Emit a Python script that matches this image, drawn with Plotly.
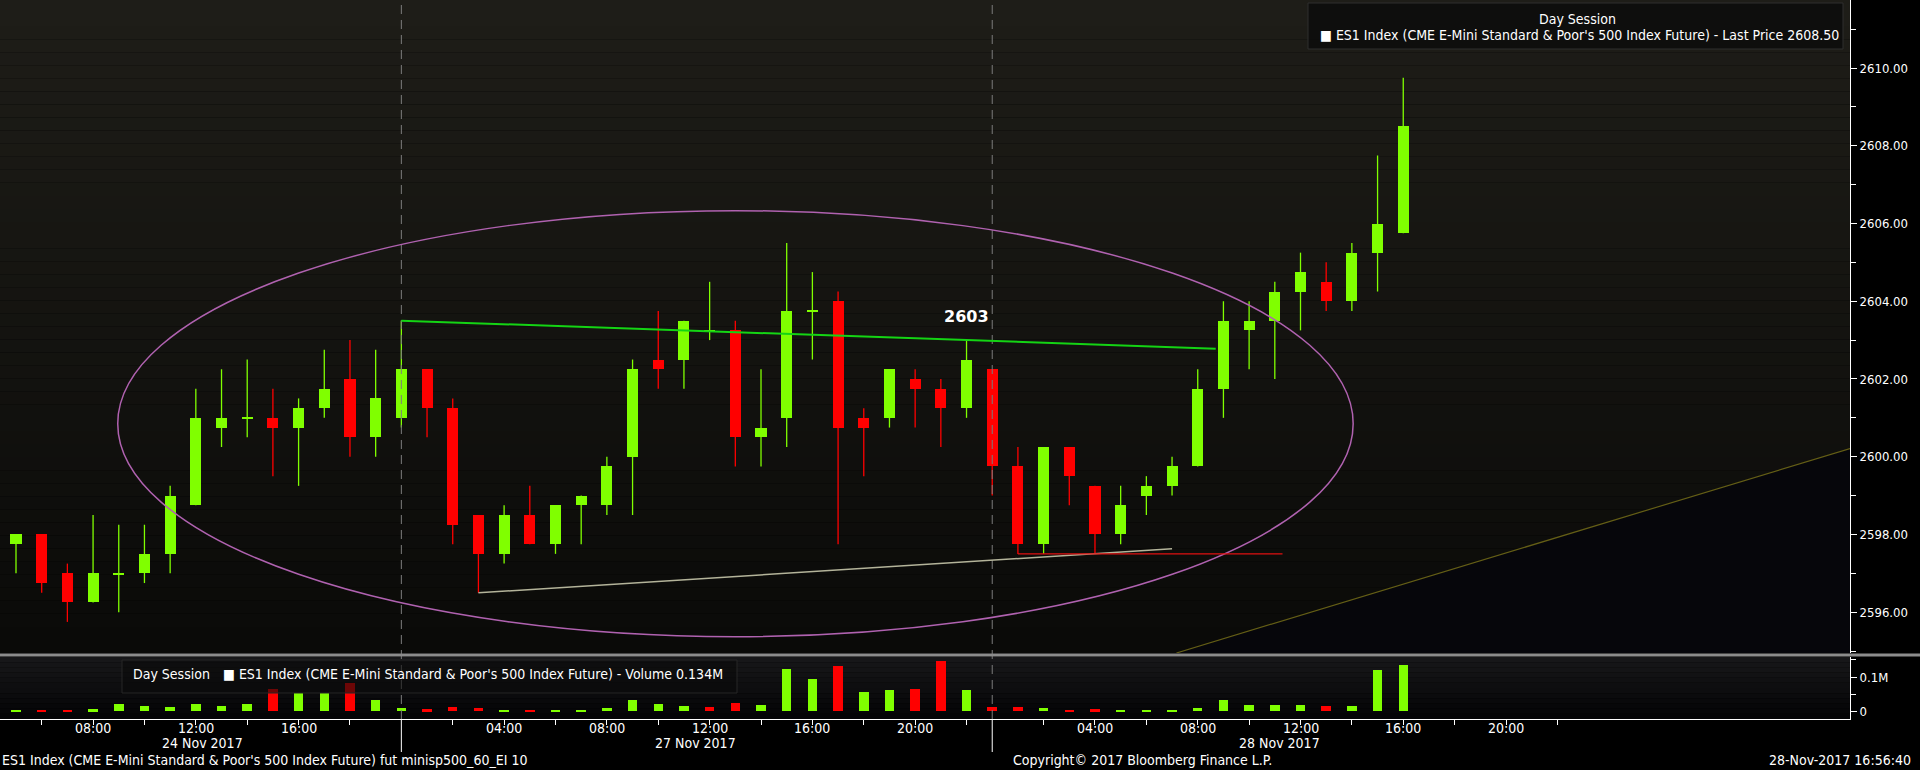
import plotly.graph_objects as go

# ---------------- data (hourly bars, ES1 Index) ----------------
bar_idx = list(range(55))
opens = [2597.75, 2598.0, 2597.0, 2596.25, 2597.0, 2597.0, 2597.5, 2598.75, 2600.75, 2601.0,
         2601.0, 2600.75, 2601.25, 2602.0, 2600.5, 2601.0, 2602.25, 2601.25, 2598.5, 2597.5,
         2598.5, 2597.75, 2598.75, 2598.75, 2600.0, 2602.5, 2602.5, 2603.25, 2603.25, 2600.5,
         2601.0, 2603.75, 2604.0, 2601.0, 2601.0, 2602.0, 2601.75, 2601.25, 2602.25, 2599.75,
         2597.75, 2600.25, 2599.25, 2598.0, 2599.0, 2599.25, 2599.75, 2601.75, 2603.25, 2603.5,
         2604.25, 2604.5, 2604.0, 2605.25, 2605.75]
highs = [2598.0, 2598.0, 2597.25, 2598.5, 2598.25, 2598.25, 2599.25, 2601.75, 2602.25, 2602.5,
         2601.75, 2601.5, 2602.75, 2603.0, 2602.75, 2603.5, 2602.25, 2601.5, 2598.5, 2598.75,
         2599.25, 2598.75, 2599.0, 2600.0, 2602.5, 2603.75, 2603.5, 2604.5, 2603.5, 2602.25,
         2605.5, 2604.75, 2604.25, 2601.25, 2602.25, 2602.25, 2602.0, 2603.0, 2602.25, 2600.25,
         2600.25, 2600.25, 2599.25, 2599.25, 2599.5, 2600.0, 2602.25, 2604.0, 2604.0, 2604.5,
         2605.25, 2605.0, 2605.5, 2607.75, 2609.75]
lows = [2597.0, 2596.5, 2595.75, 2596.25, 2596.0, 2596.75, 2597.0, 2598.75, 2600.25, 2600.5,
        2599.5, 2599.25, 2601.0, 2600.0, 2600.0, 2600.75, 2600.5, 2597.75, 2596.5, 2597.25,
        2597.75, 2597.5, 2597.75, 2598.5, 2598.5, 2601.75, 2601.75, 2603.0, 2599.75, 2599.75,
        2600.25, 2602.5, 2597.75, 2599.5, 2600.75, 2600.75, 2600.25, 2601.0, 2599.0, 2597.5,
        2597.5, 2598.75, 2597.5, 2597.75, 2598.5, 2599.0, 2599.75, 2601.0, 2602.25, 2602.0,
        2603.25, 2603.75, 2603.75, 2604.25, 2605.75]
closes = [2598.0, 2596.75, 2596.25, 2597.0, 2597.0, 2597.5, 2599.0, 2601.0, 2601.0, 2601.0,
          2600.75, 2601.25, 2601.75, 2600.5, 2601.5, 2602.25, 2601.25, 2598.25, 2597.5, 2598.5,
          2597.75, 2598.75, 2599.0, 2599.75, 2602.25, 2602.25, 2603.5, 2603.25, 2600.5, 2600.75,
          2603.75, 2603.75, 2600.75, 2600.75, 2602.25, 2601.75, 2601.25, 2602.5, 2599.75, 2597.75,
          2600.25, 2599.5, 2598.0, 2598.75, 2599.25, 2599.75, 2601.75, 2603.5, 2603.5, 2604.25,
          2604.75, 2604.0, 2605.25, 2606.0, 2608.5]
# volume in millions of contracts
volumes = [0.002, 0.002, 0.002, 0.005, 0.020, 0.014, 0.011, 0.020, 0.014, 0.020,
           0.064, 0.052, 0.052, 0.081, 0.031, 0.008, 0.005, 0.011, 0.008, 0.002,
           0.002, 0.002, 0.002, 0.008, 0.031, 0.020, 0.014, 0.011, 0.023, 0.017,
           0.123, 0.093, 0.131, 0.055, 0.061, 0.064, 0.146, 0.062, 0.012, 0.011,
           0.008, 0.002, 0.005, 0.002, 0.002, 0.002, 0.008, 0.031, 0.017, 0.017,
           0.017, 0.014, 0.014, 0.120, 0.134]
volume_up = "GRRGGGGGGGRGGRGGRRRGRGGGGGGRRGGGRGGRRGRRGRRGGGGGGGGRGGG"

time_tick_idx = [1, 3, 5, 7, 9, 11, 13,
                 17, 19, 21, 23, 25, 27, 29, 31, 33, 35, 37,
                 40, 42, 44, 46, 48, 50, 52, 54, 56, 58, 60]
time_tick_text = ["", "08:00", "", "12:00", "", "16:00", "",
                  "", "04:00", "", "08:00", "", "12:00", "", "16:00", "", "20:00", "",
                  "", "04:00", "", "08:00", "", "12:00", "", "16:00", "", "20:00", ""]
date_label_idx = [7.24, 26.45, 49.19]
date_labels = ["24 Nov 2017", "27 Nov 2017", "28 Nov 2017"]
session_breaks = [15, 38]
price_ticks = [2596, 2598, 2600, 2602, 2604, 2606, 2608, 2610]
price_minor = [2595, 2597, 2599, 2601, 2603, 2605, 2607, 2609, 2611]
vol_ticks = [0, 0.1]
vol_tick_text = ["0", "0.1M"]
vol_minor = [0.05, 0.15]

# ---------------- style ----------------
W, H = 1920, 770
PLOT_R = 1850
FONT = "DejaVu Sans Condensed, Liberation Sans Narrow, sans-serif"
FS = 14
GREEN = "#80ff00"
RED = "#ff0000"


def py(Y):  # pixel row -> paper y
    return 1 - Y / H


def px(X):  # pixel col -> paper x
    return X / PLOT_R


MAIN_TOP, MAIN_BOT = 0, 653
VOL_TOP, VOL_BOT = 657, 719

fig = go.Figure()

# wicks
for up, col in ((True, GREEN), (False, RED)):
    wx, wy = [], []
    for i, o, h, l, c in zip(bar_idx, opens, highs, lows, closes):
        if (c >= o) == up:
            wx += [i, i, None]
            wy += [l, h, None]
    fig.add_trace(go.Scatter(x=wx, y=wy, mode="lines", line=dict(color=col, width=1.3),
                             hoverinfo="skip", showlegend=False, xaxis="x", yaxis="y"))

# bodies
for up, col in ((True, GREEN), (False, RED)):
    bx, bb, bh = [], [], []
    for i, o, c in zip(bar_idx, opens, closes):
        if (c >= o) == up:
            size = abs(c - o)
            if size < 0.04:
                bx.append(i); bb.append(o - 0.02); bh.append(0.04)
            else:
                bx.append(i); bb.append(min(o, c)); bh.append(size)
    fig.add_trace(go.Bar(x=bx, y=bh, base=bb, width=0.43, marker=dict(color=col, line=dict(width=0)),
                         showlegend=False, xaxis="x", yaxis="y"))

# volume
fig.add_trace(go.Bar(x=bar_idx, y=volumes, width=0.37,
                     marker=dict(color=[GREEN if v == "G" else RED for v in volume_up], line=dict(width=0)),
                     showlegend=False, xaxis="x", yaxis="y2"))

shapes = []
# gradient backgrounds
N = 50
for k in range(N):
    t = k / (N - 1)
    r = round(30 + (10 - 30) * t); g = round(29 + (10 - 29) * t); b = round(24 + (8 - 24) * t)
    y0 = MAIN_TOP + (MAIN_BOT - MAIN_TOP) * k / N
    y1 = MAIN_TOP + (MAIN_BOT - MAIN_TOP) * (k + 1) / N
    shapes.append(dict(type="rect", xref="paper", yref="paper", x0=0, x1=1, y0=py(y1), y1=py(y0),
                       fillcolor=f"rgb({r},{g},{b})", line=dict(width=0), layer="below"))
N2 = 12
for k in range(N2):
    t = k / (N2 - 1)
    c = round(23 + (4 - 23) * t)
    y0 = VOL_TOP + (VOL_BOT - VOL_TOP) * k / N2
    y1 = VOL_TOP + (VOL_BOT - VOL_TOP) * (k + 1) / N2
    shapes.append(dict(type="rect", xref="paper", yref="paper", x0=0, x1=1, y0=py(y1), y1=py(y0),
                       fillcolor=f"rgb({c},{c},{c + 2})", line=dict(width=0), layer="below"))

# dark region below the rising trend line
shapes.append(dict(type="path", xref="x", yref="y",
                   path="M 45.17,2594.95 L 71.39,2600.21 L 71.39,2594.95 Z",
                   fillcolor="rgb(6,6,11)", line=dict(width=0), layer="below"))
shapes.append(dict(type="line", xref="x", yref="y", x0=45.17, y0=2594.95, x1=71.39, y1=2600.21,
                   line=dict(color="#645e16", width=1.2), layer="below"))

# session separators
for s in session_breaks:
    shapes.append(dict(type="line", xref="x", yref="paper", x0=s, x1=s, y0=py(VOL_BOT), y1=1,
                       line=dict(color="#7c7c7c", width=1, dash="9px,6px"), layer="above"))
    shapes.append(dict(type="line", xref="x", yref="paper", x0=s, x1=s, y0=py(752), y1=py(VOL_BOT),
                       line=dict(color="#ffffff", width=1), layer="above"))

# drawings
shapes.append(dict(type="circle", xref="x", yref="y", x0=3.96, x1=52.05, y0=2595.37, y1=2606.33,
                   line=dict(color="#b062b0", width=1.5), layer="above"))
shapes.append(dict(type="line", xref="x", yref="y", x0=15, y0=2603.5, x1=46.7, y1=2602.78,
                   line=dict(color="#14d414", width=2), layer="above"))
shapes.append(dict(type="line", xref="x", yref="y", x0=18, y0=2596.5, x1=45.0, y1=2597.63,
                   line=dict(color="#b4b49a", width=1.5), layer="above"))
shapes.append(dict(type="line", xref="x", yref="y", x0=39, y0=2597.5, x1=49.3, y1=2597.5,
                   line=dict(color="#e01010", width=1.3), layer="above"))

# panel separator
shapes.append(dict(type="rect", xref="paper", yref="paper", x0=0, x1=W / PLOT_R, y0=py(656.5), y1=py(653.5),
                   fillcolor="#8c8c8c", line=dict(width=0), layer="above"))

# legend boxes
shapes.append(dict(type="rect", xref="paper", yref="paper", x0=px(1308), x1=px(1843), y0=py(49), y1=py(3),
                   fillcolor="rgba(12,12,12,0.85)", line=dict(color="#2e2e2e", width=1), layer="above"))
shapes.append(dict(type="rect", xref="paper", yref="paper", x0=px(122), x1=px(737), y0=py(693), y1=py(660),
                   fillcolor="rgba(10,10,10,0.6)", line=dict(color="#262626", width=1), layer="above"))

annotations = []


def txt(text, x, y, xanchor="left", xref="paper", size=FS, family=FONT):
    annotations.append(dict(text=text, xref=xref, yref="paper", x=x, y=y,
                            xanchor=xanchor, yanchor="middle", showarrow=False,
                            font=dict(family=family, size=size, color="white")))


txt("Day Session", px(1577), py(19.5), "center")
txt("■ ES1 Index (CME E-Mini Standard &amp; Poor's 500 Index Future) - Last Price 2608.50", px(1318), py(35.5))
txt("Day Session", px(131), py(674))
txt("■ ES1 Index (CME E-Mini Standard &amp; Poor's 500 Index Future) - Volume 0.134M", px(221), py(674))
annotations.append(dict(text="<b>2603</b>", xref="x", yref="y", x=37, y=2603.62,
                        xanchor="center", yanchor="middle", showarrow=False,
                        font=dict(family="DejaVu Sans, sans-serif", size=16, color="white")))
for xi, lab in zip(time_tick_idx, time_tick_text):
    if lab:
        txt(lab, xi, py(727.5), "center", xref="x")
for xi, lab in zip(date_label_idx, date_labels):
    txt(lab, xi, py(742.5), "center", xref="x")
txt("ES1 Index (CME E-Mini Standard &amp; Poor's 500 Index Future) fut minisp500_60_EI 10", 0, py(760))
txt("Copyright© 2017 Bloomberg Finance L.P.", px(1142), py(760), "center")
txt("28-Nov-2017 16:56:40", px(1913), py(760), "right")

fig.update_layout(
    width=W, height=H,
    margin=dict(l=0, r=W - PLOT_R, t=0, b=0, pad=0, autoexpand=False),
    paper_bgcolor="black", plot_bgcolor="rgba(0,0,0,0)",
    barmode="overlay", bargap=0, showlegend=False,
    font=dict(family=FONT, size=FS, color="white"),
    xaxis=dict(domain=[0, 1], range=[-0.623, 71.39], anchor="y2",
               showline=True, linecolor="white", linewidth=1, mirror=False,
               tickmode="array", tickvals=time_tick_idx, ticktext=["" for _ in time_tick_idx],
               ticks="outside", ticklen=5, tickcolor="white", tickwidth=1,
               showgrid=False, zeroline=False, fixedrange=True),
    yaxis=dict(domain=[py(MAIN_BOT), 1], range=[2594.95, 2611.75], side="right", anchor="x",
               showline=True, linecolor="white", linewidth=1,
               tickmode="array", tickvals=price_ticks, ticktext=[f"{v:.2f}" for v in price_ticks],
               ticks="outside", ticklen=6, tickcolor="white", tickwidth=1,
               minor=dict(tickvals=price_minor, ticks="outside", ticklen=5, tickcolor="white"),
               tickfont=dict(family=FONT, size=13, color="white"),
               showgrid=False, zeroline=False),
    yaxis2=dict(domain=[py(VOL_BOT), py(VOL_TOP)], range=[-0.0235, 0.1588], side="right", anchor="x",
                showline=True, linecolor="white", linewidth=1,
                tickmode="array", tickvals=vol_ticks, ticktext=vol_tick_text,
                ticks="outside", ticklen=6, tickcolor="white", tickwidth=1,
                minor=dict(tickvals=vol_minor, ticks="outside", ticklen=5, tickcolor="white"),
                tickfont=dict(family=FONT, size=13, color="white"),
                showgrid=False, zeroline=False),
    shapes=shapes, annotations=annotations,
)

fig.write_html("out.html",
               config={"displayModeBar": False},
               post_script="document.body.style.margin='0';document.body.style.overflow='hidden';"
                           "document.body.style.background='black';")
